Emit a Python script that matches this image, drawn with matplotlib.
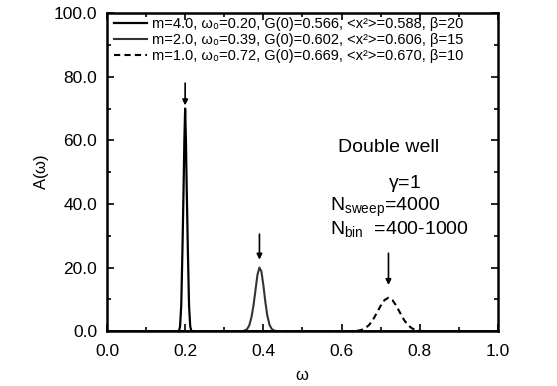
import matplotlib
matplotlib.use("Agg")
import matplotlib.pyplot as plt
from matplotlib.ticker import MultipleLocator, FormatStrFormatter

plt.rcParams["font.family"] = ["Liberation Sans", "DejaVu Sans"]
plt.rcParams["mathtext.fontset"] = "custom"
plt.rcParams["mathtext.rm"] = "Liberation Sans"
plt.rcParams["mathtext.it"] = "Liberation Sans"

# Data (omega, A(omega))
w_m4 = [0.0, 0.184, 0.187, 0.190, 0.193, 0.196, 0.198, 0.200, 0.202, 0.204, 0.207, 0.210, 0.213, 0.216, 1.0]
a_m4 = [0.0, 0.0, 1.5, 8.0, 25.0, 45.0, 60.0, 70.0, 60.0, 45.0, 25.0, 8.0, 1.5, 0.0, 0.0]

w_m2 = [0.0, 0.340, 0.350, 0.358, 0.364, 0.370, 0.375, 0.380, 0.385, 0.390, 0.395, 0.400, 0.405, 0.410, 0.416, 0.422, 0.430, 0.440, 1.0]
a_m2 = [0.0, 0.0, 0.1, 0.6, 1.8, 4.6, 8.3, 13.0, 17.8, 20.0, 18.8, 14.5, 9.3, 5.0, 1.9, 0.6, 0.1, 0.0, 0.0]

w_m1 = [0.0, 0.630, 0.640, 0.650, 0.660, 0.670, 0.680, 0.690, 0.700, 0.710, 0.720, 0.730, 0.740, 0.750, 0.760, 0.770, 0.780, 0.790, 0.800, 0.810, 1.0]
a_m1 = [0.0, 0.0, 0.13, 0.36, 0.9, 1.9, 3.5, 5.7, 8.0, 9.8, 10.5, 9.8, 8.0, 5.7, 3.5, 1.9, 0.9, 0.36, 0.13, 0.0, 0.0]

labels = [
    "m=4.0, ω₀=0.20, G(0)=0.566, <x²>=0.588, β=20",
    "m=2.0, ω₀=0.39, G(0)=0.602, <x²>=0.606, β=15",
    "m=1.0, ω₀=0.72, G(0)=0.669, <x²>=0.670, β=10",
]

# arrows: x position, tail height, tip height
arrow_x = [0.200, 0.390, 0.720]
arrow_top = [78.0, 30.5, 24.5]
arrow_tip = [71.0, 22.5, 14.5]

fig = plt.figure(figsize=(5.57, 3.86), dpi=100)
ax = fig.add_axes([0.192, 0.142, 0.702, 0.824])

ax.plot(w_m4, a_m4, color="black", lw=1.6, label=labels[0])
ax.plot(w_m2, a_m2, color="0.2", lw=1.5, label=labels[1])
ax.plot(w_m1, a_m1, color="black", lw=1.5, ls=(0, (3, 2)), label=labels[2])

for x, y0, y1 in zip(arrow_x, arrow_top, arrow_tip):
    ax.annotate("", xy=(x, y1), xytext=(x, y0),
                arrowprops=dict(arrowstyle="-|>", color="black", lw=1.2,
                                mutation_scale=8, shrinkA=0, shrinkB=0))

ax.set_xlim(0.0, 1.0)
ax.set_ylim(0.0, 100.0)
ax.xaxis.set_major_locator(MultipleLocator(0.2))
ax.xaxis.set_minor_locator(MultipleLocator(0.1))
ax.yaxis.set_major_locator(MultipleLocator(20))
ax.yaxis.set_minor_locator(MultipleLocator(10))
ax.xaxis.set_major_formatter(FormatStrFormatter("%.1f"))
ax.yaxis.set_major_formatter(FormatStrFormatter("%.1f"))
ax.tick_params(which="both", direction="in", top=True, right=True, width=1.2)
ax.tick_params(which="major", length=5, labelsize=12.5)
ax.tick_params(which="minor", length=3)
ax.tick_params(axis="x", pad=9)
ax.tick_params(axis="y", pad=7)
for s in ax.spines.values():
    s.set_linewidth(1.8)

ax.set_xlabel(r"$\omega$", fontsize=12, labelpad=7)
ax.set_ylabel(r"A($\omega$)", fontsize=12, labelpad=2)

ax.legend(loc="upper left", frameon=False, fontsize=10.5, handlelength=2.3,
          handletextpad=0.3, labelspacing=0.15, borderaxespad=0.0,
          borderpad=0.2, bbox_to_anchor=(0.01, 0.998))

ax.text(0.721, 0.579, "Double well", transform=ax.transAxes, ha="center",
        va="center", fontsize=14)
ax.text(0.762, 0.465, r"$\gamma$=1", transform=ax.transAxes, ha="center",
        va="center", fontsize=14)
ax.text(0.57, 0.39, r"N$_{\mathrm{sweep}}$=4000", transform=ax.transAxes,
        ha="left", va="center", fontsize=14)
ax.text(0.57, 0.32, r"N$_{\mathrm{bin}}$  =400-1000", transform=ax.transAxes,
        ha="left", va="center", fontsize=14)

fig.savefig("out.png", dpi=100)
